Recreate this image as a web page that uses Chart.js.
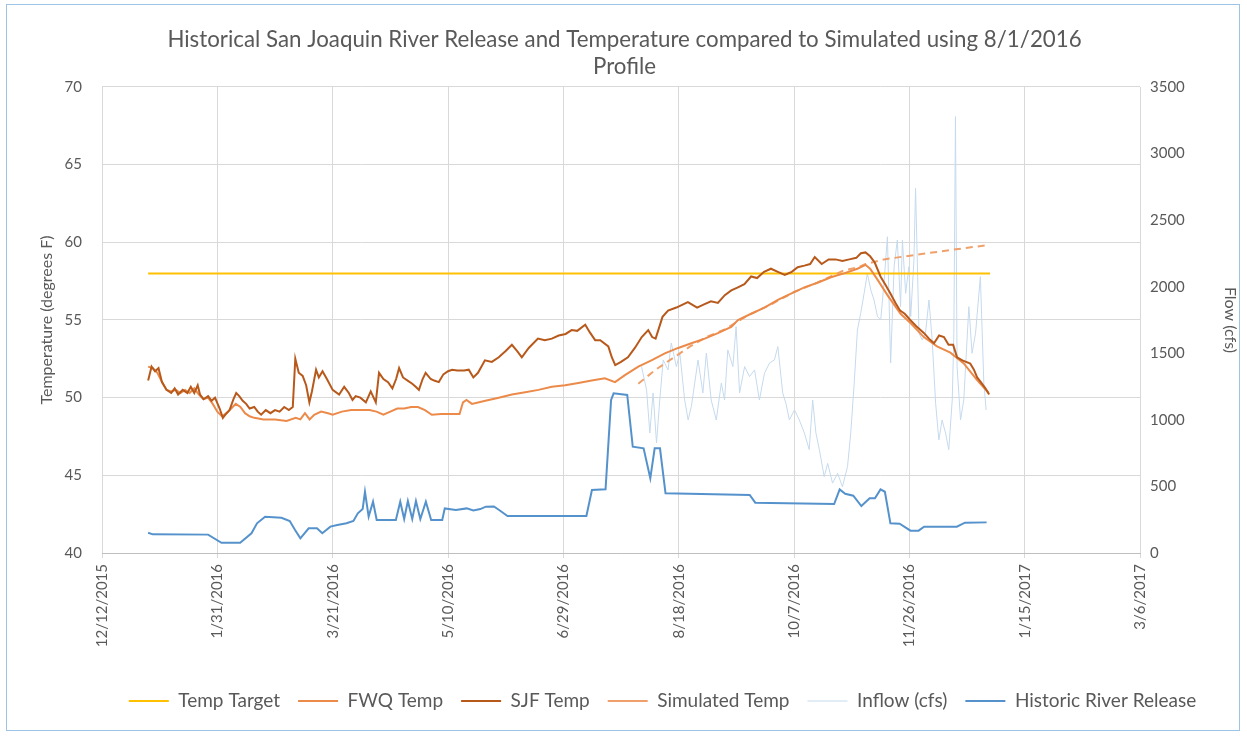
<!DOCTYPE html>
<html>
<head>
<meta charset="utf-8">
<script src="https://cdn.jsdelivr.net/npm/chart.js@4.4.1/dist/chart.umd.min.js"></script>
<style>
  body { margin: 0; background: #fff; }
  #wrap { position: absolute; left: 0; top: 0; width: 1247px; height: 738px; }
  #frame { position: absolute; left: 6px; top: 4px; width: 1232px; height: 725px; border: 1px solid #9dc3e6; pointer-events: none; }
</style>
</head>
<body>
<div id="wrap"><canvas id="flowChart" width="1247" height="738"></canvas></div>
<div id="frame"></div>
<script>
// Eje X: dias desde 12/12/2015
const START = Date.UTC(2015, 11, 12);
const X_TICK_STEP = 50;

const targetDays = [20, 385];
const targetTemp = [58, 58];

const fwqDays = [20, 22, 24, 26, 28, 30, 32, 34, 36, 38, 40, 42, 44, 46, 48, 50, 52, 54, 56, 58, 60, 62, 64, 66, 70, 75, 80, 84, 86, 88, 90, 92, 95, 98, 100, 104, 108, 112, 116, 119, 122, 125, 128, 131, 134, 137, 140, 143, 147, 151, 155, 156.5, 158, 160.4, 166.2, 172, 177.7, 183.5, 189.2, 195, 200.8, 206.5, 212.3, 218, 222.4, 226.7, 232.5, 238.2, 244, 249.8, 255.5, 261.3, 267, 272.8, 275.7, 281.4, 287.2, 293, 298.7, 304.5, 310.2, 316, 321.7, 327.5, 331, 333, 336.2, 340.5, 346.2, 350.5, 356.3, 362, 367.8, 373.6, 379.3, 384.4];
const fwqTemp = [52.0, 51.9, 51.6, 51.0, 50.5, 50.4, 50.5, 50.3, 50.5, 50.3, 50.6, 50.2, 49.9, 50.0, 49.6, 49.1, 48.8, 49.0, 49.3, 49.6, 49.4, 49.0, 48.8, 48.7, 48.6, 48.6, 48.5, 48.7, 48.6, 49.0, 48.6, 48.9, 49.1, 49.0, 48.9, 49.1, 49.2, 49.2, 49.2, 49.1, 48.9, 49.1, 49.3, 49.3, 49.4, 49.4, 49.2, 48.9, 48.95, 48.95, 48.95, 49.7, 49.85, 49.6, 49.8, 50.0, 50.2, 50.35, 50.5, 50.7, 50.8, 50.95, 51.1, 51.25, 51.0, 51.45, 52.0, 52.4, 52.85, 53.2, 53.5, 53.8, 54.15, 54.55, 55.0, 55.4, 55.8, 56.3, 56.7, 57.1, 57.4, 57.75, 58.0, 58.3, 58.55, 58.3, 57.6, 56.6, 55.4, 54.8, 53.9, 53.3, 52.9, 52.2, 51.15, 50.3];

const sjfDays = [20, 21.5, 23, 24.5, 26, 28, 30, 31.5, 33, 35, 37, 38.5, 40, 41.5, 42.5, 44, 46, 47.5, 49, 51, 52.4, 54, 55.3, 57, 58.2, 59.5, 61, 62.5, 64, 66, 67.5, 69, 71, 73, 75, 77, 79, 81, 82.7, 83.8, 85.3, 87, 88.5, 89.9, 91, 92.8, 94, 95.6, 97.5, 100, 102.8, 105, 107, 108.6, 110, 112, 114.4, 116.5, 118.7, 120.1, 122, 124, 125.9, 127.5, 128.8, 130.5, 132.5, 134.5, 136, 137.4, 139, 140.3, 142.5, 144, 146, 148, 150, 151.8, 154, 157, 159, 161, 163, 166, 169, 172, 175, 177.7, 180, 182, 185, 189, 192, 195, 198, 201, 203.6, 206, 209.5, 211.5, 213.8, 216, 219.5, 221, 222.5, 225, 228, 231, 234, 236.8, 238.5, 240, 243, 245.4, 249, 254, 258, 261, 264, 267, 270, 272.8, 275.7, 278.5, 281.4, 284, 287, 290, 293, 296, 299, 301.6, 304.5, 307, 309, 312, 315, 318, 321, 324, 327, 329, 331, 333, 335, 337.5, 339.5, 341.8, 344, 346, 348, 350.4, 353, 356.4, 358.5, 360.7, 362.9, 365, 367, 369, 370.7, 373, 376.4, 378, 379.4, 381, 383, 384.6];
const sjfTemp = [51.1, 52.0, 51.7, 51.9, 51.0, 50.5, 50.3, 50.6, 50.2, 50.5, 50.3, 50.7, 50.3, 50.8, 50.2, 49.9, 50.1, 49.8, 50.0, 49.3, 48.7, 49.0, 49.2, 49.9, 50.3, 50.1, 49.8, 49.6, 49.3, 49.4, 49.1, 48.9, 49.2, 49.0, 49.2, 49.1, 49.4, 49.2, 49.4, 52.5, 51.6, 51.4, 50.8, 49.7, 50.4, 51.8, 51.3, 51.7, 51.2, 50.5, 50.2, 50.7, 50.3, 49.85, 50.1, 50.0, 49.7, 50.4, 49.7, 51.6, 51.2, 51.0, 50.6, 51.2, 51.9, 51.3, 51.1, 50.9, 50.7, 50.5, 51.2, 51.6, 51.2, 51.1, 51.0, 51.5, 51.7, 51.8, 51.75, 51.75, 51.8, 51.3, 51.6, 52.4, 52.3, 52.6, 53.0, 53.4, 53.0, 52.6, 53.2, 53.8, 53.7, 53.8, 54.0, 54.1, 54.35, 54.3, 54.7, 54.2, 53.7, 53.7, 53.3, 52.6, 52.1, 52.3, 52.6, 53.2, 53.9, 54.35, 53.9, 53.8, 55.2, 55.6, 55.8, 56.15, 55.8, 56.0, 56.2, 56.1, 56.6, 56.9, 57.1, 57.3, 57.8, 57.7, 58.1, 58.3, 58.1, 57.9, 58.1, 58.4, 58.5, 58.6, 59.05, 58.6, 58.9, 58.9, 58.8, 58.9, 59.0, 59.3, 59.35, 59.1, 58.7, 57.8, 57.3, 56.7, 56.1, 55.6, 55.4, 55.0, 54.6, 54.15, 53.8, 53.5, 54.0, 53.9, 53.4, 53.4, 52.6, 52.4, 52.2, 51.8, 51.3, 51.0, 50.6, 50.2];

const simDays = [232.5, 240, 248, 255, 262, 270, 280, 290, 300, 310, 321.7, 328, 331, 339, 353, 367.8, 383];
const simTemp = [50.9, 51.8, 52.6, 53.3, 53.9, 54.4, 55.3, 56.0, 56.8, 57.4, 58.2, 58.4, 58.6, 58.9, 59.2, 59.5, 59.8];

const inflowDays = [233.9, 236.1, 237.5, 238.9, 240.4, 241.8, 243.3, 245.4, 246.8, 249, 250.5, 252.6, 254.1, 255.5, 258.4, 260.5, 262, 264.1, 266.3, 268.5, 269.9, 271.3, 273.5, 274.9, 276.4, 278.6, 280.7, 282.9, 285, 287.2, 289.4, 291.5, 293, 295.1, 296.5, 298, 300.2, 302.3, 304.5, 306.6, 308.1, 309.5, 311, 313.1, 314.6, 316.7, 318.9, 321, 323.2, 324.6, 326.1, 327.5, 328.9, 330.4, 331.8, 333.3, 334.7, 336.2, 337.6, 339, 340.5, 341.9, 343.4, 344.8, 346.2, 347, 348.4, 349.8, 350.6, 352, 352.7, 354.2, 355.6, 357, 358.5, 359.9, 361.4, 362.8, 364.2, 365.7, 367.1, 368.6, 369.3, 370, 370.7, 372.2, 373.6, 375.8, 377.2, 378.7, 380.8, 382.3, 383.3];
const inflowCfs = [1400, 1224, 901, 1202, 826, 1149, 1450, 1375, 1577, 1400, 1502, 1149, 999, 1100, 1450, 1202, 1502, 1149, 999, 1276, 1149, 1525, 1400, 1700, 1202, 1400, 1325, 1375, 1149, 1350, 1427, 1450, 1550, 1202, 1124, 999, 1075, 999, 901, 776, 1149, 901, 776, 573, 673, 525, 598, 498, 648, 901, 1276, 1675, 1800, 1950, 2100, 1975, 1900, 1775, 1750, 2025, 2375, 1427, 2150, 2351, 1850, 2351, 1950, 2150, 1775, 2200, 2739, 1650, 1600, 1650, 1900, 1600, 1124, 849, 999, 900, 776, 1149, 1650, 3277, 1400, 999, 1149, 1850, 1500, 1650, 2075, 1276, 1074];

const releaseDays = [20, 22, 46, 51.8, 59.9, 64.8, 67.2, 70.7, 77.8, 81.4, 83.7, 86, 89.6, 93.2, 95.5, 99, 102, 106, 109, 110.9, 113, 114, 115.6, 117.5, 119.1, 127.4, 129.3, 131, 132.6, 134.5, 136.1, 138, 140.4, 142.7, 147.5, 148.6, 153.4, 158.1, 161, 164, 166.4, 169.9, 172, 175.8, 210, 212.4, 218.3, 220.7, 221.8, 227.7, 230.1, 234.8, 237.7, 239.6, 241.9, 244.3, 280.8, 283.2, 317.4, 319.8, 322.2, 325.7, 329.2, 332.8, 335.1, 337.5, 339.4, 341.8, 345.8, 350.5, 354, 356.4, 370.6, 374.1, 383.5];
const releaseCfs = [152, 140, 138, 77, 77, 148, 223, 273, 265, 240, 173, 110, 185, 185, 148, 198, 210, 223, 240, 298, 330, 460, 273, 385, 248, 248, 385, 255, 390, 255, 390, 255, 385, 248, 248, 335, 323, 335, 320, 330, 348, 350, 325, 278, 278, 473, 478, 1149, 1199, 1187, 798, 786, 561, 786, 786, 448, 436, 378, 368, 478, 445, 430, 353, 411, 411, 478, 460, 223, 220, 168, 168, 198, 198, 228, 230];

const FONT = 'Lato, "Open Sans", sans-serif';
const GREY = '#595959';

function pts(days, vals) {
    return days.map((d, i) => ({ x: d, y: vals[i] }));
}

function fmtDate(v) {
    const d = new Date(START + v * 86400000);
    return (d.getUTCMonth() + 1) + '/' + d.getUTCDate() + '/' + d.getUTCFullYear();
}

function line(label, data, color, width, axis, order, extra) {
    return Object.assign({
        label, data, borderColor: color, backgroundColor: color,
        borderWidth: width, yAxisID: axis, order,
        pointRadius: 0, tension: 0, fill: false
    }, extra || {});
}

// Mover titulo y leyenda horizontalmente como en el original
const shiftBoxes = {
    id: 'shiftBoxes',
    afterLayout(chart) {
        if (chart.titleBlock) { chart.titleBlock.left -= 14; chart.titleBlock.right -= 14; }
        if (chart.legend) { chart.legend.left += 24; chart.legend.right += 24; }
    }
};

const ctx = document.getElementById('flowChart');
new Chart(ctx, {
    type: 'line',
    plugins: [shiftBoxes],
    data: {
        datasets: [
            line('Temp Target', pts(targetDays, targetTemp), '#FFC000', 2, 'y', 5),
            line('FWQ Temp', pts(fwqDays, fwqTemp), '#EC8A4A', 2, 'y', 3),
            line('SJF Temp', pts(sjfDays, sjfTemp), '#B8591C', 2, 'y', 2),
            line('Simulated Temp', pts(simDays, simTemp), '#F0A06A', 2, 'y', 4, { borderDash: [7, 5] }),
            line('Inflow (cfs)', pts(inflowDays, inflowCfs), '#C5DAEE', 1, 'y2', 6),
            line('Historic River Release', pts(releaseDays, releaseCfs), '#5592CC', 2, 'y2', 1)
        ]
    },
    options: {
        responsive: false,
        animation: false,
        layout: { padding: { left: 37, right: 7, top: 0, bottom: 17.5 } },
        plugins: {
            title: {
                display: true,
                text: ['Historical San Joaquin River Release and Temperature compared to Simulated using 8/1/2016', 'Profile'],
                color: GREY,
                font: { family: FONT, size: 22.3, weight: 'normal', lineHeight: 1.21 },
                padding: { top: 26.5, bottom: 6.5 }
            },
            legend: {
                position: 'bottom',
                labels: {
                    usePointStyle: true,
                    pointStyle: 'line',
                    pointStyleWidth: 40,
                    color: GREY,
                    font: { family: FONT, size: 19 },
                    padding: 18,
                    sort: (a, b) => a.datasetIndex - b.datasetIndex
                }
            },
            tooltip: { enabled: false }
        },
        scales: {
            x: {
                type: 'linear',
                min: 0,
                max: 450,
                ticks: {
                    stepSize: X_TICK_STEP,
                    minRotation: 90,
                    maxRotation: 90,
                    color: GREY,
                    font: { family: FONT, size: 15 },
                    padding: 6,
                    callback: v => fmtDate(v)
                },
                grid: { color: '#D9D9D9', tickLength: 5 },
                border: { color: '#BFBFBF' },
                afterFit: s => { s.height = 120.5; }
            },
            y: {
                position: 'left',
                min: 40,
                max: 70,
                ticks: { stepSize: 5, color: GREY, font: { family: FONT, size: 15 }, padding: 20 },
                grid: { color: '#D9D9D9', drawTicks: false },
                border: { display: false },
                title: { display: true, text: 'Temperature (degrees F)', color: GREY, font: { family: FONT, size: 16 }, padding: { top: 0, bottom: 0 } },
                afterFit: s => { s.width = 65; }
            },
            y2: {
                position: 'right',
                min: 0,
                max: 3500,
                ticks: { stepSize: 500, color: GREY, font: { family: FONT, size: 15 }, padding: 10, callback: v => String(v) },
                grid: { display: false, drawTicks: false },
                border: { display: false },
                title: { display: true, text: 'Flow (cfs)', color: GREY, font: { family: FONT, size: 16 }, padding: { top: 0, bottom: 0 } },
                afterFit: s => { s.width = 100; }
            }
        }
    }
});
</script>
</body>
</html>
